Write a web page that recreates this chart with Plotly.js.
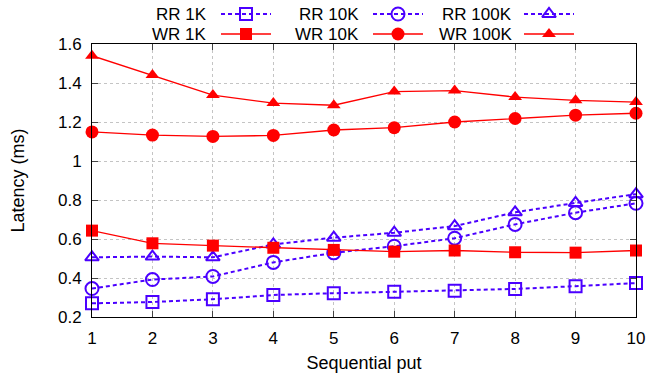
<!DOCTYPE html>
<html><head><meta charset="utf-8">
<script src="https://cdn.plot.ly/plotly-3.0.1.min.js"></script>
<style>body{margin:0;background:#fff}#c{width:649px;height:375px}</style>
</head><body><div id="c"></div>
<script>
const xs = [1,2,3,4,5,6,7,8,9,10];
const rr1k   = [0.27,0.277,0.291,0.313,0.322,0.329,0.335,0.344,0.358,0.374];
const rr10k  = [0.346,0.392,0.408,0.48,0.529,0.563,0.604,0.675,0.735,0.783];
const rr100k = [0.506,0.51,0.506,0.572,0.607,0.632,0.666,0.737,0.785,0.83];
const wr1k   = [0.643,0.578,0.566,0.555,0.544,0.535,0.541,0.532,0.530,0.541];
const wr10k  = [1.149,1.133,1.126,1.131,1.159,1.171,1.2,1.218,1.235,1.245];
const wr100k = [1.54,1.441,1.338,1.297,1.286,1.356,1.361,1.328,1.311,1.302];
const names = ['RR 1K','RR 10K','RR 100K','WR 1K','WR 10K','WR 100K'];
const series = [rr1k, rr10k, rr100k, wr1k, wr10k, wr100k];

const BLUE = '#4b00ff', RED = '#ff0000';
const styles = [
  {c:BLUE, sym:'square-open', sz:12, dash:'4px,3px', w:2},
  {c:BLUE, sym:'circle-open', sz:13, dash:'4px,3px', w:2},
  {c:BLUE, sym:'triangle-up-open', sz:12, dash:'4px,3px', w:2},
  {c:RED, sym:'square', sz:12, dash:'solid', w:1.3},
  {c:RED, sym:'circle', sz:13, dash:'solid', w:1.3},
  {c:RED, sym:'triangle-up', sz:12, dash:'solid', w:1.3}
];
const traces = series.map((ys,i)=>({
  x: xs, y: ys, name: names[i], type:'scatter', mode:'lines+markers',
  line:{color:styles[i].c, dash:styles[i].dash, width:styles[i].w},
  marker:{symbol:styles[i].sym, size:styles[i].sz, color:styles[i].c, line:{color:styles[i].c, width:(i<3?2:0)}},
  showlegend:false, cliponaxis:false
}));

// custom gnuplot-style legend (text left, sample right), in pixel-like aux axes
const legCols = [{tx:208, x0:221, x1:271}, {tx:360, x0:373, x1:423}, {tx:513, x0:524, x1:574}];
const legRows = [14, 34];
const annotations = [];
series.forEach((ys,i)=>{
  const col = legCols[i%3], row = legRows[Math.floor(i/3)], s = styles[i];
  traces.push({x:[col.x0,col.x1], y:[row,row], xaxis:'x2', yaxis:'y2',
    type:'scatter', mode:'lines', showlegend:false, hoverinfo:'skip', cliponaxis:false,
    line:{color:s.c, dash:s.dash, width:s.w}});
  traces.push({x:[(col.x0+col.x1)/2], y:[row], xaxis:'x2', yaxis:'y2',
    type:'scatter', mode:'markers', showlegend:false, hoverinfo:'skip', cliponaxis:false,
    marker:{symbol:s.sym, size:s.sz, color:s.c, line:{color:s.c, width:(i<3?2:0)}}});
  annotations.push({xref:'x2', yref:'y2', x:col.tx, y:row, text:names[i], showarrow:false,
    xanchor:'right', yanchor:'middle', borderpad:0, font:{size:17, color:'#000'}});
});

const F = 'Liberation Sans, Arial, sans-serif';
const TOP = 3, BOT = 58, PH = 375 - TOP - BOT, PLOT_H = 273;
const layout = {
  width:649, height:375,
  margin:{l:92, r:13, t:TOP, b:BOT},
  paper_bgcolor:'#fff', plot_bgcolor:'#fff',
  font:{family:F, size:17, color:'#000'},
  xaxis:{range:[1,10], tickvals:xs, ticktext:xs.map(String), ticks:'inside', ticklen:6,
    showline:true, linecolor:'#000', linewidth:1, mirror:'allticks',
    showgrid:true, gridcolor:'#c4c4c4', griddash:'dot', gridwidth:1, zeroline:false,
    tickfont:{size:17}, domain:[0,1], ticklabelstandoff:6,
    title:{text:'Sequential put', font:{size:18}, standoff:8}},
  yaxis:{range:[0.2,1.6], tickvals:[0.2,0.4,0.6,0.8,1,1.2,1.4,1.6],
    ticktext:['0.2','0.4','0.6','0.8','1','1.2','1.4','1.6'],
    ticks:'inside', ticklen:6, showline:true, linecolor:'#000', linewidth:1, mirror:'allticks',
    showgrid:true, gridcolor:'#c4c4c4', griddash:'dot', gridwidth:1, zeroline:false,
    tickfont:{size:17}, domain:[0, PLOT_H/PH], ticklabelstandoff:6,
    title:{text:'Latency (ms)', font:{size:18}, standoff:28}},
  xaxis2:{domain:[0,1], range:[92,636], visible:false, fixedrange:true, anchor:'y2'},
  yaxis2:{domain:[PLOT_H/PH,1], range:[44,3], visible:false, fixedrange:true, anchor:'x2'},
  annotations: annotations,
  showlegend:false
};
Plotly.newPlot('c', traces, layout, {staticPlot:true, displayModeBar:false});
</script></body></html>
